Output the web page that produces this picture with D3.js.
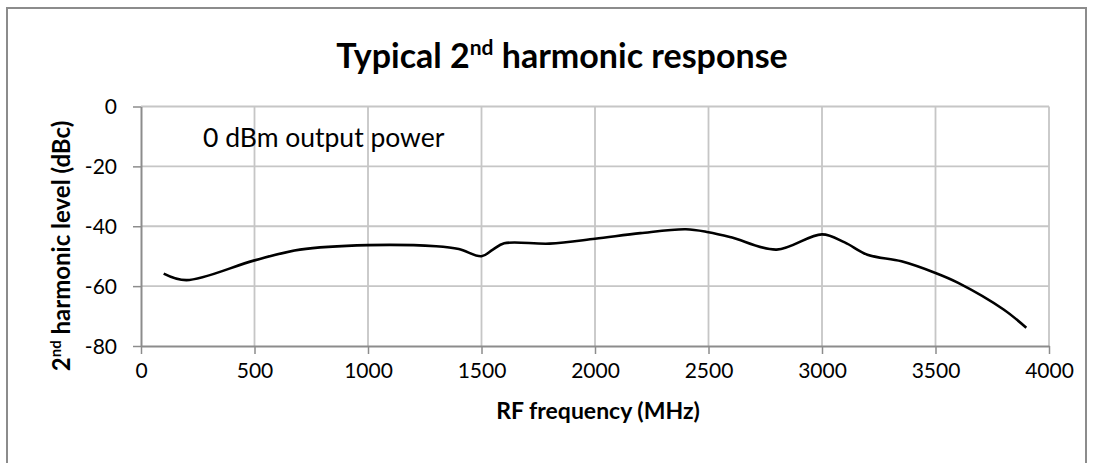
<!DOCTYPE html>
<html><head><meta charset="utf-8">
<script src="https://cdn.jsdelivr.net/npm/d3@7"></script>
<style>
body{margin:0;background:#fff;}
svg text{font-family:Lato,"Open Sans",sans-serif;fill:#000;}
</style></head>
<body><svg id="c" width="1094" height="463"></svg>
<script>
const freq = [100,200,500,700,1000,1300,1400,1500,1550,1600,1800,2000,2200,2400,2500,2600,2800,3000,3100,3200,3350,3500,3600,3800,3900];
const level = [-55.8,-58,-51.4,-47.8,-46.3,-46.7,-47.6,-50,-47.8,-45.7,-45.8,-44.2,-42.3,-41,-42,-43.7,-47.8,-42.7,-45.4,-49.5,-51.7,-55.6,-58.9,-67.8,-73.9];
const xTicks = [0,500,1000,1500,2000,2500,3000,3500,4000];
const yTicks = [0,-20,-40,-60,-80];

const svg = d3.select("#c");
const L=141, R=1049, T=106.5, B=346;
const x = d3.scaleLinear().domain([0,4000]).range([L,R]);
const y = d3.scaleLinear().domain([-80,0]).range([B,T]);

// outer border
svg.append("rect").attr("x",7).attr("y",8).attr("width",1079).attr("height",480)
  .attr("fill","none").attr("stroke","#8c8c8c").attr("stroke-width",2);

// gridlines
const g = svg.append("g");
g.selectAll(".vg").data(xTicks.slice(1)).enter().append("line")
  .attr("x1",d=>x(d)).attr("x2",d=>x(d)).attr("y1",T).attr("y2",B)
  .attr("stroke","#c6c6c6").attr("stroke-width",1.8);
g.selectAll(".hg").data(yTicks.slice(0,-1)).enter().append("line")
  .attr("x1",L).attr("x2",R).attr("y1",d=>y(d)).attr("y2",d=>y(d))
  .attr("stroke","#c6c6c6").attr("stroke-width",1.8);

// axes
const fmt = d => String(d);
const xa = svg.append("g").attr("transform",`translate(0,${B})`)
  .call(d3.axisBottom(x).tickValues(xTicks).tickFormat(fmt).tickSize(8).tickPadding(9).tickSizeOuter(0));
const ya = svg.append("g").attr("transform",`translate(${L},0)`)
  .call(d3.axisLeft(y).tickValues(yTicks).tickFormat(fmt).tickSize(8).tickPadding(16).tickSizeOuter(0));
[xa,ya].forEach(a=>{
  a.select(".domain").attr("stroke","#8c8c8c").attr("stroke-width",2);
  a.selectAll(".tick line").attr("stroke","#8c8c8c").attr("stroke-width",1.5);
  a.selectAll(".tick text").attr("font-size",21).attr("font-family","Lato,sans-serif").attr("fill","#000");
});
ya.selectAll(".tick text").attr("dy","0.35em");

// line
const line = d3.line().x((d,i)=>x(freq[i])).y((d,i)=>y(level[i])).curve(d3.curveCatmullRom.alpha(0.5));
svg.append("path").datum(level).attr("d",line).attr("fill","none")
  .attr("stroke","#000").attr("stroke-width",2.6);

// title
const t = svg.append("text").attr("x",562).attr("y",68).attr("text-anchor","middle")
  .attr("font-size",34).attr("font-weight","bold");
t.append("tspan").text("Typical 2");
t.append("tspan").text("nd").attr("font-size",21).attr("dy",-13);
t.append("tspan").text(" harmonic response").attr("dy",13);

// annotation
svg.append("text").attr("x",203).attr("y",147).attr("font-size",26.5).text("0 dBm output power");

// x axis title
svg.append("text").attr("x",598).attr("y",419).attr("text-anchor","middle")
  .attr("font-size",23).attr("font-weight","bold").text("RF frequency (MHz)");

// y axis title
const yt = svg.append("text").attr("transform","translate(70,246) rotate(-90)")
  .attr("text-anchor","middle").attr("font-size",24).attr("font-weight","bold");
yt.append("tspan").text("2");
yt.append("tspan").text("nd").attr("font-size",15).attr("dy",-9);
yt.append("tspan").text(" harmonic level (dBc)").attr("dy",9);
</script></body></html>
